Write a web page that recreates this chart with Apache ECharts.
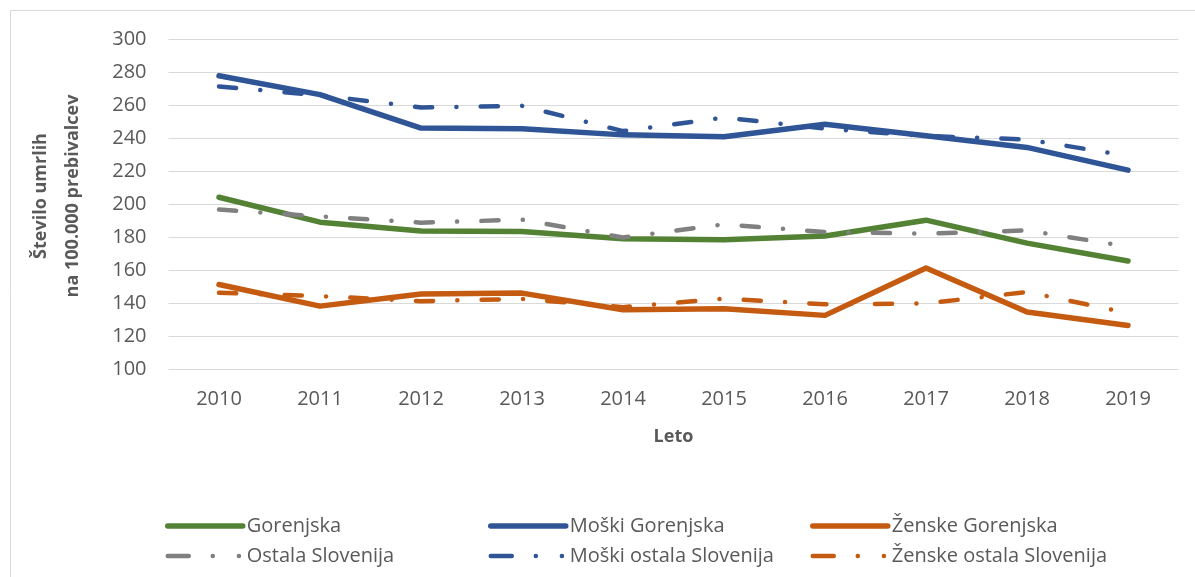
<!DOCTYPE html>
<html>
<head>
<meta charset="utf-8">
<script src="https://cdn.jsdelivr.net/npm/echarts@6/dist/echarts.min.js"></script>
<style>
html,body{margin:0;padding:0;background:#fff;}
#chart{width:1195px;height:577px;}
</style>
</head>
<body>
<div id="chart"></div>
<script>
const categories = ['2010','2011','2012','2013','2014','2015','2016','2017','2018','2019'];
const gorenjska = [204.4, 189.3, 184.0, 183.6, 179.2, 178.7, 180.9, 190.5, 176.6, 165.8];
const ostalaSlovenija = [196.9, 192.8, 189.0, 190.8, 180.0, 188.0, 183.3, 182.3, 184.3, 174.5];
const moskiGorenjska = [278.0, 266.6, 246.3, 245.9, 242.2, 241.0, 248.6, 241.7, 234.6, 220.8];
const moskiOstala = [271.5, 266.2, 258.8, 259.8, 244.5, 252.7, 246.0, 241.5, 239.4, 229.5];
const zenskeGorenjska = [151.5, 138.4, 145.8, 146.3, 136.2, 136.8, 132.8, 161.5, 134.8, 126.7];
const zenskeOstala = [146.5, 144.5, 141.4, 142.8, 137.8, 142.9, 139.5, 140.0, 147.0, 134.2];
const yTicks = {min: 100, max: 300, interval: 20};

const FONT = '"Open Sans", "Noto Sans", sans-serif';
const TXT = '#595959';
const GREEN = '#548235', BLUE = '#2F5597', ORANGE = '#C55A11', GRAY = '#808080';
const DASHDOT = [17.2, 24.2, 0.1, 24.2];
const LEGEND_DASH = [21, 24, 0.1, 26, 0.1, 40];

function solid(name, data, color) {
  return {
    name, type: 'line', data, symbol: 'none', smooth: false,
    lineStyle: {color, width: 5.5, cap: 'round', join: 'round'},
    itemStyle: {color}, emphasis: {disabled: true}
  };
}
function dashed(name, data, color) {
  return {
    name, type: 'line', data, symbol: 'none', smooth: false,
    lineStyle: {color, width: 4.5, type: DASHDOT, cap: 'round', join: 'round'},
    itemStyle: {color}, emphasis: {disabled: true}
  };
}
function legendCol(left, a, b) {
  return {
    orient: 'vertical', left, top: 516, padding: 0,
    itemWidth: 75, itemHeight: 20, itemGap: 10,
    selectedMode: false,
    itemStyle: {opacity: 0, borderWidth: 0},
    textStyle: {fontFamily: FONT, fontSize: 20, color: TXT, padding: [0,0,0,-1]},
    data: [
      {name: a, itemStyle: {opacity: 0}, lineStyle: {type: 'solid', width: 5.5, cap: 'round'}},
      {name: b, itemStyle: {opacity: 0}, lineStyle: {type: LEGEND_DASH, width: 4.5, cap: 'round'}}
    ]
  };
}

const chart = echarts.init(document.getElementById('chart'), null, {renderer: 'canvas'});
chart.setOption({
  animation: false,
  backgroundColor: '#fff',
  grid: {left: 168.5, right: 16.5, top: 39.5, bottom: 207.5, containLabel: false},
  xAxis: {
    type: 'category', data: categories, boundaryGap: true,
    axisLine: {show: false}, axisTick: {show: false},
    axisLabel: {fontFamily: FONT, fontSize: 20, color: TXT, margin: 20},
    name: 'Leto', nameLocation: 'middle', nameGap: 58,
    nameTextStyle: {fontFamily: FONT, fontSize: 18, fontWeight: 'bold', color: TXT}
  },
  yAxis: {
    type: 'value', min: yTicks.min, max: yTicks.max, interval: yTicks.interval,
    axisLine: {show: false}, axisTick: {show: false},
    axisLabel: {fontFamily: FONT, fontSize: 20, color: TXT, margin: 22},
    splitLine: {lineStyle: {color: '#d9d9d9', width: 1}}
  },
  legend: [
    legendCol(165, 'Gorenjska', 'Ostala Slovenija'),
    legendCol(488, 'Moški Gorenjska', 'Moški ostala Slovenija'),
    legendCol(810, 'Ženske Gorenjska', 'Ženske ostala Slovenija')
  ],
  graphic: [
    {type: 'rect', silent: true, z: -1,
     shape: {x: 10.5, y: 10.5, width: 1300, height: 700},
     style: {fill: null, stroke: '#d9d9d9', lineWidth: 1}},
    {type: 'text', silent: true, x: 57, y: 196, rotation: Math.PI / 2,
     style: {text: 'Število umrlih\nna 100.000 prebivalcev', fontFamily: FONT, fontSize: 18,
             fontWeight: 'bold', fill: TXT, align: 'center', verticalAlign: 'middle', lineHeight: 32}}
  ],
  series: [
    solid('Gorenjska', gorenjska, GREEN),
    solid('Moški Gorenjska', moskiGorenjska, BLUE),
    solid('Ženske Gorenjska', zenskeGorenjska, ORANGE),
    dashed('Ostala Slovenija', ostalaSlovenija, GRAY),
    dashed('Moški ostala Slovenija', moskiOstala, BLUE),
    dashed('Ženske ostala Slovenija', zenskeOstala, ORANGE)
  ]
});
</script>
</body>
</html>
